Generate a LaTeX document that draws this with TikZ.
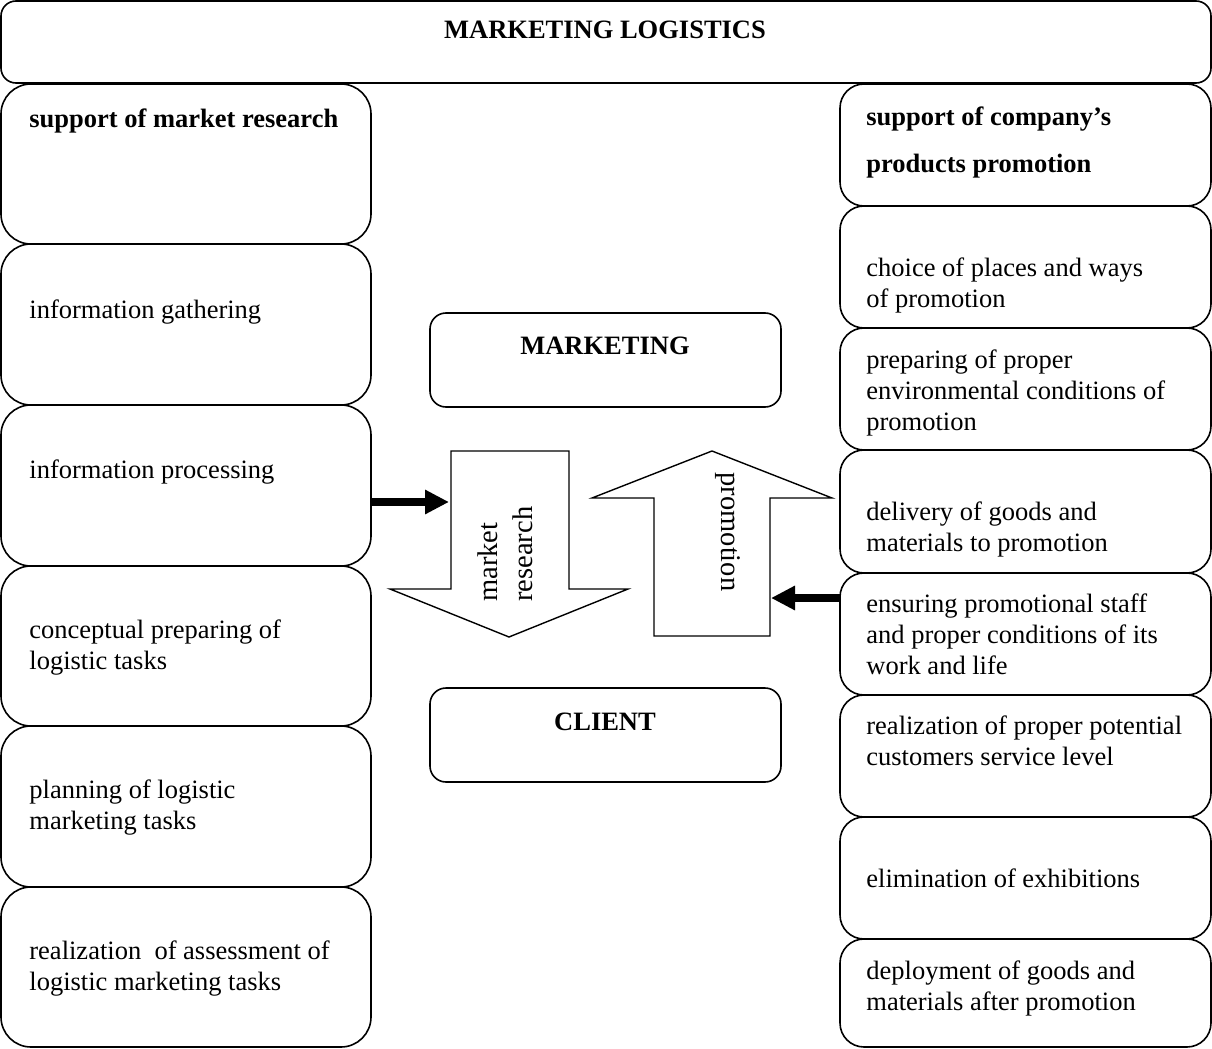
\documentclass[tikz,border=0pt]{standalone}
\usepackage{fontspec}
\setmainfont{Liberation Serif}
\usetikzlibrary{fit,arrows.meta}
\begin{document}
\begin{tikzpicture}[x=0.5pt,y=-0.5pt,
  box/.style={draw, line width=0.8pt, inner sep=0pt, outer sep=0pt},
  topbox/.style={box, rounded corners=7.5pt},
  lbox/.style={box, rounded corners=15pt},
  rbox/.style={box, rounded corners=12pt},
  cbox/.style={box, rounded corners=8pt},
  txt/.style={inner sep=0pt, align=left, font=\fontsize{13.25}{15.5}\selectfont},
  head/.style={inner sep=0pt, align=left, font=\fontsize{13.25}{23.5}\selectfont\bfseries},
  rtxt/.style={inner sep=0pt, align=left, font=\fontsize{14.25}{17.5}\selectfont},
  blockarrow/.style={draw, line width=0.7pt, fill=white, line join=miter},
  blk/.style={line width=4pt, -{Triangle[length=12pt 0,width=11.5pt 0]}}
]
\useasboundingbox (0,0) rectangle (1212,1049);

% top box
\node[topbox, fit={(1,1)(1211,83)}] (top) {};
\node[txt, font=\fontsize{13.25}{15.5}\selectfont\bfseries, anchor=base] (title) at (605,39) {MARKETING LOGISTICS};

% left column
\node[lbox, fit={(1,84)(371,244)}] (L1) {};
\node[lbox, fit={(1,244)(371,405)}] (L2) {};
\node[lbox, fit={(1,405)(371,566)}] (L3) {};
\node[lbox, fit={(1,566)(371,726)}] (L4) {};
\node[lbox, fit={(1,726)(371,887)}] (L5) {};
\node[lbox, fit={(1,887)(371,1047)}] (L6) {};

% (base anchor of a multi-line node = baseline of its last line)
\node[txt, font=\fontsize{13.25}{15.5}\selectfont\bfseries, anchor=base west] (L1t) at (29,127) {support of market research};
\node[txt, anchor=base west] (L2t) at (29,318) {information gathering};
\node[txt, anchor=base west] (L3t) at (29,478) {information processing};
\node[txt, anchor=base west] (L4t) at (29,669) {conceptual preparing of\\logistic tasks};
\node[txt, anchor=base west] (L5t) at (29,829) {planning of logistic\\marketing tasks};
\node[txt, anchor=base west] (L6t) at (29,990) {realization\ \ of assessment of\\logistic marketing tasks};

% right column
\node[rbox, fit={(840,84)(1211,206)}] (R1) {};
\node[rbox, fit={(840,206)(1211,328)}] (R2) {};
\node[rbox, fit={(840,328)(1211,450)}] (R3) {};
\node[rbox, fit={(840,450)(1211,573)}] (R4) {};
\node[rbox, fit={(840,573)(1211,695)}] (R5) {};
\node[rbox, fit={(840,695)(1211,817)}] (R6) {};
\node[rbox, fit={(840,817)(1211,939)}] (R7) {};
\node[rbox, fit={(840,939)(1211,1047)}] (R8) {};

\node[head, anchor=base west] (R1t) at (866,172) {support of company’s\\products promotion};
\node[txt, anchor=base west] (R2t) at (866,307) {choice of places and ways\\of promotion};
\node[txt, anchor=base west] (R3t) at (866,430) {preparing of proper\\environmental conditions of\\promotion};
\node[txt, anchor=base west] (R4t) at (866,551) {delivery of goods and\\materials to promotion};
\node[txt, anchor=base west] (R5t) at (866,674) {ensuring promotional staff\\and proper conditions of its\\work and life};
\node[txt, anchor=base west] (R6t) at (866,765) {realization of proper potential\\customers service level};
\node[txt, anchor=base west] (R7t) at (866,887) {elimination of exhibitions};
\node[txt, anchor=base west] (R8t) at (866,1010) {deployment of goods and\\materials after promotion};

% centre boxes
\node[cbox, fit={(430,313)(781,407)}] (mkt) {};
\node[txt, font=\fontsize{13.25}{15.5}\selectfont\bfseries, anchor=base] (mktt) at (605,354) {MARKETING};
\node[cbox, fit={(430,688)(781,782)}] (cli) {};
\node[txt, font=\fontsize{13.25}{15.5}\selectfont\bfseries, anchor=base] (clit) at (605,730) {CLIENT};

% block arrows
\draw[blockarrow] (451,451) -- (569,451) -- (569,589) -- (628,589) -- (509,637) -- (390,589) -- (451,589) -- cycle;
\draw[blockarrow] (654,636) -- (770,636) -- (770,498) -- (832,498) -- (712,451) -- (592,498) -- (654,498) -- cycle;
\node[rtxt, rotate=90, anchor=base west] (mr) at (532,602) {market\\research};
\node[rtxt, rotate=-90, anchor=base] (pr) at (721,532) {promotion};

% connectors
\coordinate (mrIn) at (449,502);
\coordinate (prIn) at (771,598);
\draw[blk] (L3.east |- mrIn) -- (mrIn);
\draw[blk] (R5.west |- prIn) -- (prIn);
\end{tikzpicture}
\end{document}
